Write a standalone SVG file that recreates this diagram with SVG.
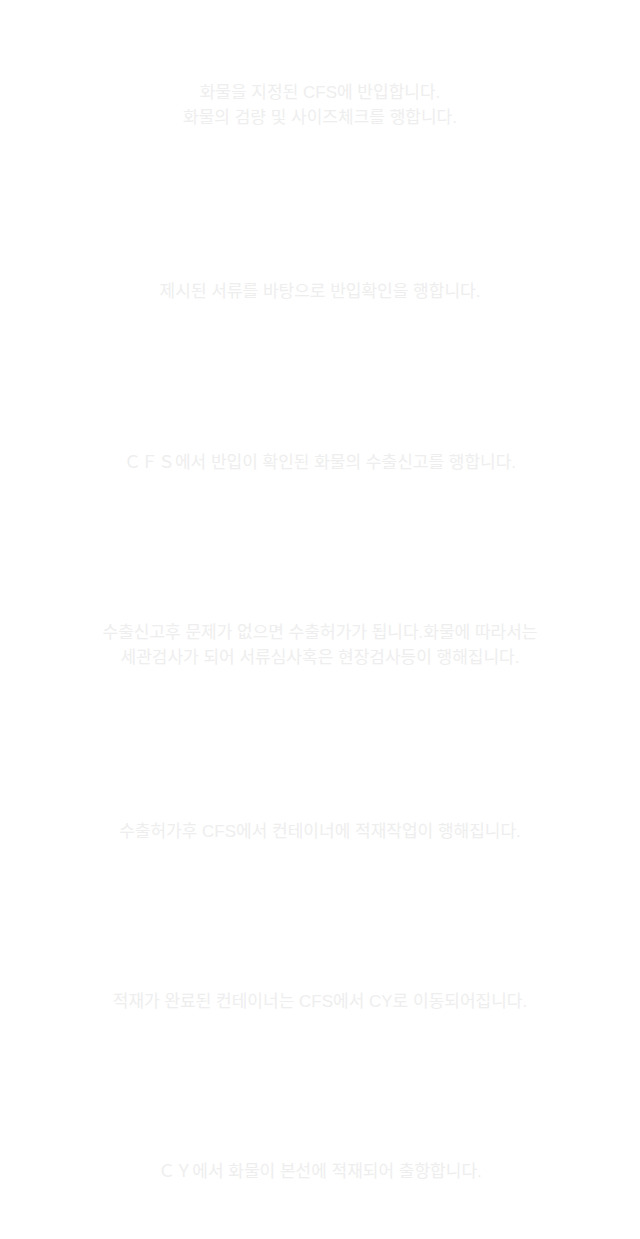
<svg xmlns="http://www.w3.org/2000/svg" width="640" height="1239" viewBox="0 0 640 1239">
<style>
text{font-family:"Liberation Sans","Noto Sans CJK KR",sans-serif;text-anchor:middle}
.h{font-size:17px;font-weight:bold;fill:#ffffff}
.b{font-size:17px;fill:#eeeeee}
</style>
<rect width="640" height="1239" fill="#ffffff"/>
<g id="step1"><text class="h" x="320" y="39">CFS에 반입</text><text class="b" x="320" y="98">화물을 지정된 CFS에 반입합니다.</text><text class="b" x="320" y="123">화물의 검량 및 사이즈체크를 행합니다.</text></g>
<g id="step2"><text class="h" x="320" y="238">반입확인</text><text class="b" x="320" y="297">제시된 서류를 바탕으로 반입확인을 행합니다.</text></g>
<g id="step3"><text class="h" x="320" y="409">수출신고</text><text class="b" x="320" y="468">ＣＦＳ에서 반입이 확인된 화물의 수출신고를 행합니다.</text></g>
<g id="step4"><text class="h" x="320" y="579">수출허가·검사</text><text class="b" x="320" y="638">수출신고후 문제가 없으면 수출허가가 됩니다.화물에 따라서는</text><text class="b" x="320" y="663">세관검사가 되어 서류심사혹은 현장검사등이 행해집니다.</text></g>
<g id="step5"><text class="h" x="320" y="776">CFS 작업</text><text class="b" x="320" y="837">수출허가후 CFS에서 컨테이너에 적재작업이 행해집니다.</text></g>
<g id="step6"><text class="h" x="320" y="946">컨테이너 이동</text><text class="b" x="320" y="1007">적재가 완료된 컨테이너는 CFS에서 CY로 이동되어집니다.</text></g>
<g id="step7"><text class="h" x="320" y="1116">본선적재</text><text class="b" x="320" y="1177">ＣＹ에서 화물이 본선에 적재되어 출항합니다.</text></g>
</svg>
